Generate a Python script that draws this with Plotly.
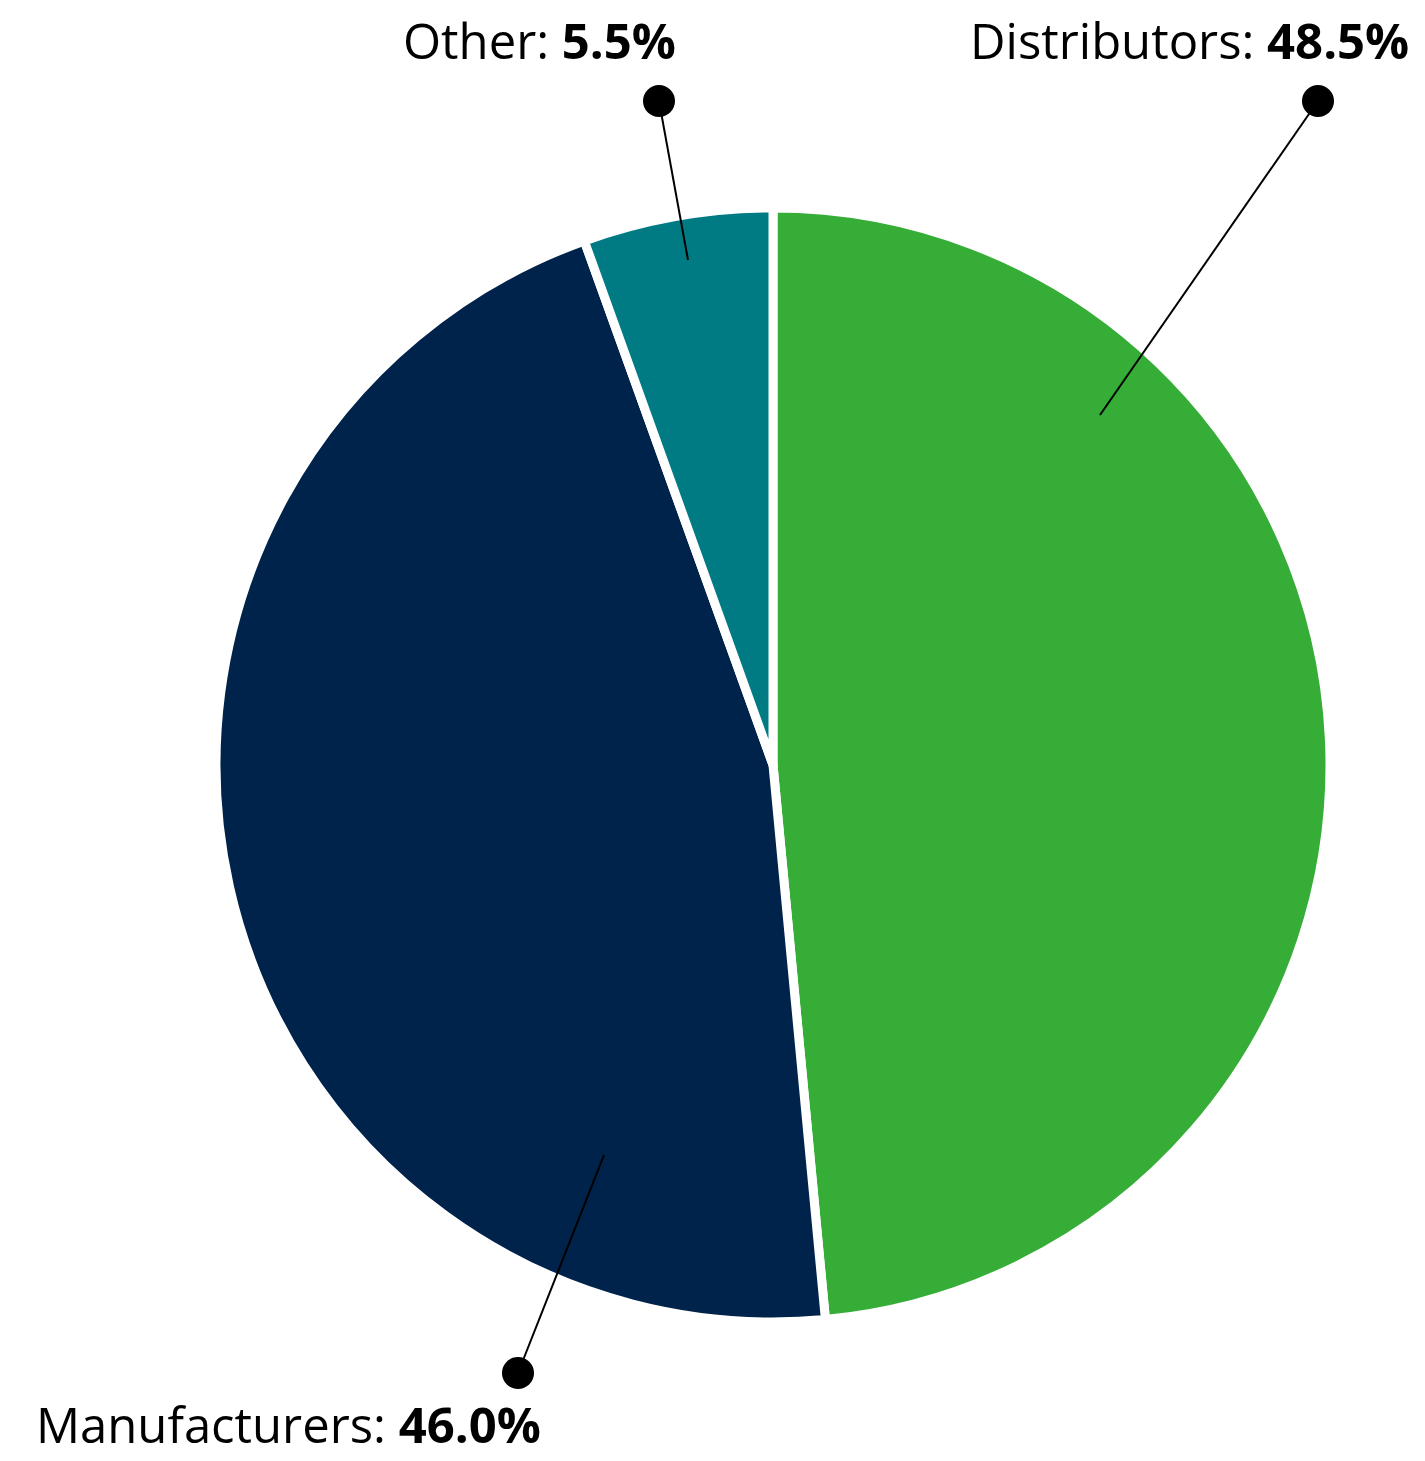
import plotly.graph_objects as go

# Market share by segment
segments = ["Distributors", "Manufacturers", "Other"]
shares = [48.5, 46.0, 5.5]
colors = ["#36AD37", "#00234B", "#007A83"]

W, H = 1425, 1461
CX, CY, R = 773, 765, 557  # pie centre and radius in pixels

def px(x):
    return x / W

def py(y):
    return 1 - y / H

fig = go.Figure(
    go.Pie(
        labels=segments,
        values=shares,
        sort=False,
        direction="clockwise",
        rotation=0,
        marker=dict(colors=colors, line=dict(color="white", width=9)),
        textinfo="none",
        hoverinfo="label+percent",
        showlegend=False,
        domain=dict(x=[px(CX - R), px(CX + R)], y=[py(CY + R), py(CY - R)]),
    )
)

# leader lines: (start inside slice, dot end), label anchor
leaders = {
    "Distributors": dict(start=(1100, 415), end=(1318, 101),
                         text_xy=(1411, 40), xanchor="right"),
    "Other": dict(start=(688, 260), end=(659, 101),
                  text_xy=(678, 40), xanchor="right"),
    "Manufacturers": dict(start=(604, 1155), end=(518, 1373),
                          text_xy=(34, 1424), xanchor="left"),
}

shapes = []
annotations = []
DOT = 16
for name, share in zip(segments, shares):
    ld = leaders[name]
    (x0, y0), (x1, y1) = ld["start"], ld["end"]
    shapes.append(dict(type="line", xref="paper", yref="paper",
                       x0=px(x0), y0=py(y0), x1=px(x1), y1=py(y1),
                       line=dict(color="black", width=2)))
    shapes.append(dict(type="circle", xref="paper", yref="paper",
                       x0=px(x1 - DOT), x1=px(x1 + DOT),
                       y0=py(y1 + DOT), y1=py(y1 - DOT),
                       fillcolor="black", line=dict(color="black", width=0)))
    tx, ty = ld["text_xy"]
    annotations.append(dict(
        xref="paper", yref="paper", x=px(tx), y=py(ty),
        xanchor=ld["xanchor"], yanchor="middle", showarrow=False,
        text=f"{name}: <b>{share:.1f}%</b>",
        font=dict(family="Open Sans", size=49, color="black"),
    ))

fig.update_layout(
    width=W, height=H,
    margin=dict(l=0, r=0, t=0, b=0),
    paper_bgcolor="white", plot_bgcolor="white",
    shapes=shapes, annotations=annotations,
)

fig.write_html("out.html")
